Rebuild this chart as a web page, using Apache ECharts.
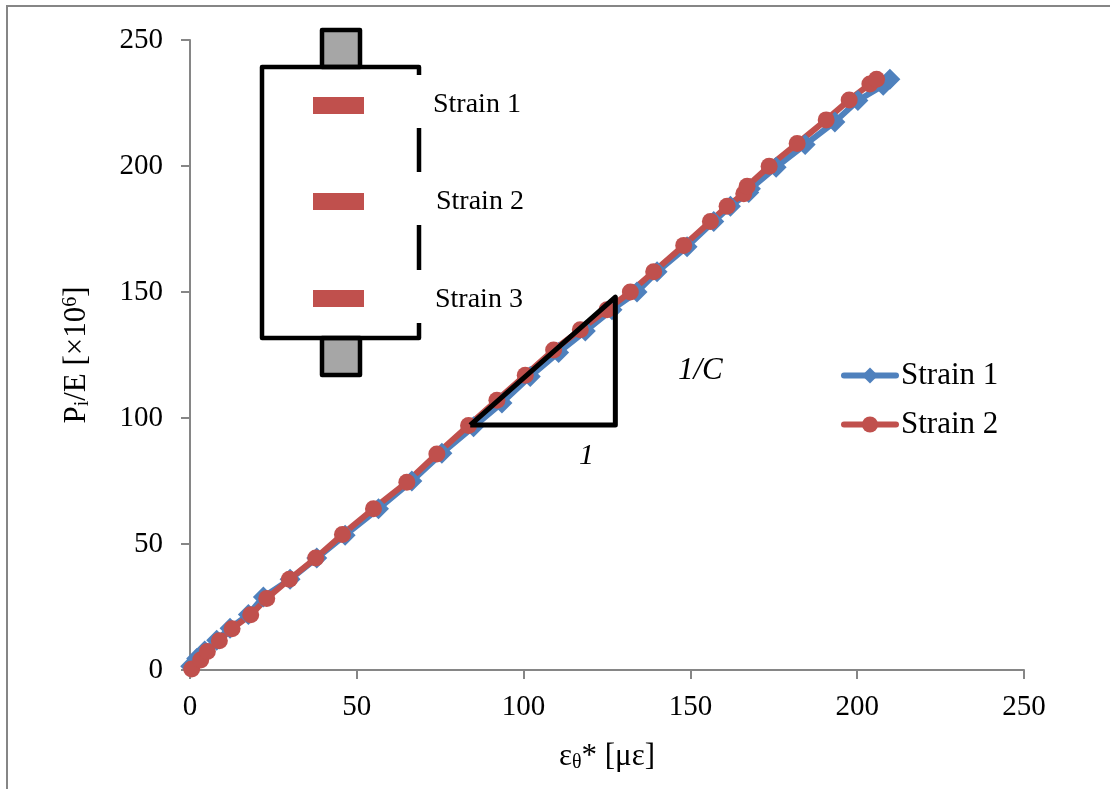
<!DOCTYPE html>
<html>
<head>
<meta charset="utf-8">
<style>
  html, body { margin: 0; padding: 0; background: #fff; }
  #chart { width: 1110px; height: 789px; }
</style>
<script src="https://cdn.jsdelivr.net/npm/echarts@6/dist/echarts.min.js"></script>
</head>
<body>
<div id="chart"></div>
<script>
var strain1X = [0.2, 2, 4.4, 8, 12, 17.5, 22, 30, 38, 46.5, 56.5, 66.5, 75.5, 85, 93.5, 102, 110.5, 118.5, 126.5, 134, 140, 149, 157, 162, 167.5, 168, 175.7, 184.4, 193.3, 200.2, 207.8, 209.8]
var strain1Y = [1.5, 4.6, 7.5, 11.8, 16.6, 22, 29, 36, 44.4, 53.5, 64, 75, 86, 96.5, 106, 116.5, 126, 134.5, 143, 150, 158, 168, 178, 184, 189.5, 191, 199.5, 208.5, 217.5, 226, 232, 234.4]
var strain2X = [0.5, 3.2, 5.2, 8.8, 12.6, 18.2, 23, 29.8, 37.7, 45.7, 55, 65, 74, 83.5, 92, 100.5, 109, 117, 125, 132, 139, 148, 156, 161, 166, 167, 173.6, 182, 190.7, 197.6, 203.8, 205.8]
var strain2Y = [0.4, 4, 7.3, 11.6, 16.4, 21.9, 28.4, 36, 44.4, 53.8, 64, 74.5, 85.7, 97, 107, 117, 127, 135, 143, 150, 158, 168.5, 178, 184, 189, 192, 199.9, 208.9, 218.3, 226.2, 232.5, 234.4]
var slopeX = [84, 127.5, 127.5, 84]
var slopeY = [97.2, 148, 97.2, 97.2]
var tickLabels = ['0', '50', '100', '150', '200', '250']

function pairs(xs, ys) {
  return xs.map(function (x, i) { return [x, ys[i]] })
}

var serif = '"Liberation Serif", serif'
var axisGray = '#868686'
var blue = '#4f81bd'
var red = '#c0504d'

// sketch of the specimen, top left of the plot
function specimen() {
  var black = { stroke: '#000', lineWidth: 4.5, fill: null, lineJoin: 'round', lineCap: 'butt' }
  var items = []
  function line(points) {
    items.push({ type: 'polyline', shape: { points: points }, style: black })
  }
  function stub(y, h) {
    items.push({ type: 'rect', shape: { x: 322, y: y, width: 38, height: h }, style: { fill: '#a6a6a6', stroke: '#000', lineWidth: 4.5, lineJoin: 'round' } })
  }
  stub(30, 37)
  stub(338, 37)
  line([[419, 75], [419, 67], [262, 67], [262, 338], [419, 338], [419, 323]])
  line([[419, 128], [419, 172]])
  line([[419, 225], [419, 270]])
  ;[97, 193, 290].forEach(function (y) {
    items.push({ type: 'rect', shape: { x: 313, y: y, width: 51, height: 17 }, style: { fill: red } })
  })
  ;[['Strain 1', 433, 105], ['Strain 2', 436, 202], ['Strain 3', 435, 300]].forEach(function (t) {
    items.push({ type: 'text', style: { text: t[0], x: t[1], y: t[2], font: '28px ' + serif, fill: '#000', verticalAlign: 'middle' } })
  })
  items.push({ type: 'text', style: { text: '1/C', x: 678, y: 371, font: 'italic 31px ' + serif, fill: '#000', verticalAlign: 'middle' } })
  items.push({ type: 'text', style: { text: '1', x: 579, y: 456, font: 'italic 30px ' + serif, fill: '#000', verticalAlign: 'middle' } })
  // picture frame
  items.push({ type: 'polyline', shape: { points: [[7, 789], [7, 6], [1110, 6]] }, style: { stroke: axisGray, lineWidth: 2, fill: null } })
  return items
}

var chart = echarts.init(document.getElementById('chart'))
chart.setOption({
  backgroundColor: '#fff',
  animation: false,
  textStyle: { fontFamily: serif },
  grid: { left: 190, right: 86, top: 40, bottom: 119 },
  legend: {
    data: ['Strain 1', 'Strain 2'],
    orient: 'vertical',
    left: 841,
    top: 360,
    padding: 0,
    itemWidth: 52,
    itemHeight: 20,
    itemGap: 18,
    lineStyle: { width: 6 },
    textStyle: { fontFamily: serif, fontSize: 31, color: '#000' }
  },
  xAxis: {
    type: 'value',
    min: 0,
    max: 250,
    interval: 50,
    splitLine: { show: false },
    axisLine: { onZero: false, lineStyle: { color: axisGray, width: 2 } },
    axisTick: { length: 9, lineStyle: { color: axisGray, width: 2 } },
    axisLabel: { fontFamily: serif, fontSize: 29, color: '#000', margin: 23,
      formatter: function (v) { return tickLabels[v / 50] } },
    name: '{m|ε}{s|θ}{m|* [με]}',
    nameLocation: 'middle',
    nameGap: 71,
    nameTextStyle: {
      rich: {
        m: { fontFamily: serif, fontSize: 31, color: '#000' },
        s: { fontFamily: serif, fontSize: 20, color: '#000', verticalAlign: 'bottom', padding: [12, 0, 0, 0] }
      }
    }
  },
  yAxis: {
    type: 'value',
    min: 0,
    max: 250,
    interval: 50,
    splitLine: { show: false },
    axisLine: { onZero: false, lineStyle: { color: axisGray, width: 2 } },
    axisTick: { length: 9, lineStyle: { color: axisGray, width: 2 } },
    axisLabel: { fontFamily: serif, fontSize: 29, color: '#000', margin: 27, padding: [4, 0, 0, 0],
      formatter: function (v) { return tickLabels[v / 50] } },
    name: '{m|P}{s|i}{m|/E [×10}{u|6}{m|]}',
    nameLocation: 'middle',
    nameGap: 97,
    nameTextStyle: {
      rich: {
        m: { fontFamily: serif, fontSize: 31, color: '#000' },
        s: { fontFamily: serif, fontSize: 20, color: '#000', verticalAlign: 'bottom', padding: [12, 0, 0, 0] },
        u: { fontFamily: serif, fontSize: 20, color: '#000', verticalAlign: 'top', padding: [0, 0, 12, 0] }
      }
    }
  },
  series: [
    {
      name: 'Strain 1',
      type: 'line',
      data: pairs(strain1X, strain1Y),
      symbol: 'diamond',
      symbolSize: 21,
      showAllSymbol: true,
      itemStyle: { color: blue },
      lineStyle: { color: blue, width: 6, cap: 'round' }
    },
    {
      name: 'Strain 2',
      type: 'line',
      data: pairs(strain2X, strain2Y),
      symbol: 'circle',
      symbolSize: 17,
      showAllSymbol: true,
      itemStyle: { color: red },
      lineStyle: { color: red, width: 6, cap: 'round' }
    },
    {
      name: 'slope',
      type: 'line',
      data: pairs(slopeX, slopeY),
      symbol: 'none',
      silent: true,
      z: 5,
      lineStyle: { color: '#000', width: 5, join: 'round' }
    }
  ],
  graphic: { elements: specimen() }
})
</script>
</body>
</html>
